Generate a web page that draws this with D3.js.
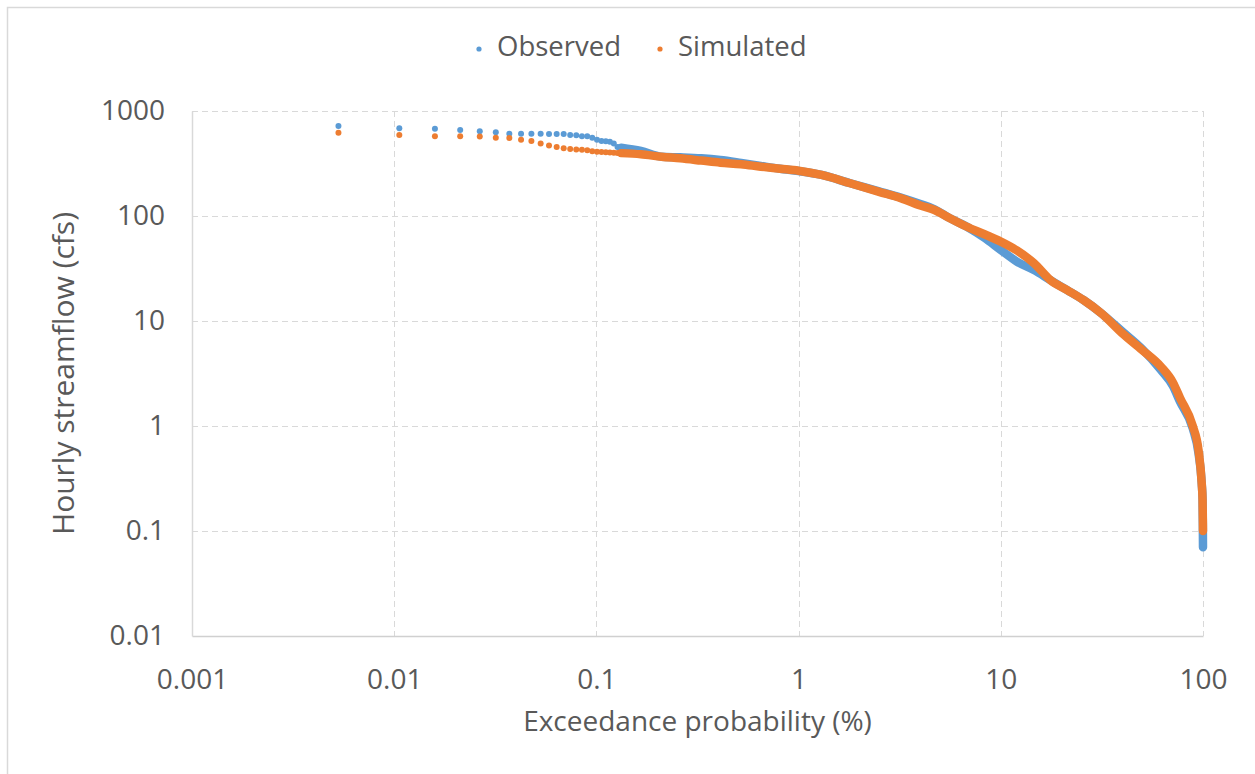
<!DOCTYPE html>
<html>
<head>
<meta charset="utf-8">
<script src="https://cdn.jsdelivr.net/npm/d3@7"></script>
<style>
  body { margin: 0; background: #fff; }
  text { font-family: "Open Sans", "Noto Sans", sans-serif; fill: #595959; }
</style>
</head>
<body>
<div id="chart"></div>
<script>
// exceedance probability (%) of the sparse upper-tail points (rank * 0.0053)
const tailProb = [0.0053, 0.0106, 0.0159, 0.0212, 0.0265, 0.0318, 0.0371, 0.0424, 0.0477, 0.053,
  0.0583, 0.0636, 0.0689, 0.0742, 0.0795, 0.0848, 0.0901, 0.0954, 0.1007, 0.106,
  0.1113, 0.1166, 0.1219, 0.1272, 0.1325];
const observedTail = [720, 684, 678, 659, 643, 627, 608, 608, 607, 606,
  605, 604, 603, 592, 588, 576, 574, 557, 533, 518,
  516, 510, 489, 454, 447];
const simulatedTail = [621, 590, 576, 574, 572, 557, 553, 533, 518, 489,
  468, 454, 441, 435, 430, 428, 422, 414, 410, 406,
  404, 402, 400, 398, 397];

// dense part of the curves (points so close they merge into a band)
const observedProb = [0.1325, 0.166, 0.21, 0.26, 0.33, 0.41, 0.52, 0.65, 0.81, 1.0,
  1.3, 1.8, 2.5, 3.2, 4.0, 4.7, 5.5, 6.8, 8.3, 10,
  12, 14.6, 17.6, 21.3, 25.7, 31.5, 40, 50, 62, 71,
  77, 89, 95, 98.6, 99.5, 99.8, 99.99];
const observedFlow = [447, 416, 367, 362, 354, 341, 320, 300, 282, 268,
  246, 205, 172, 150, 130, 116, 97, 79, 62, 47.4,
  36.8, 30.5, 24.5, 19.7, 15.8, 11.8, 7.9, 5.4, 3.4, 2.4,
  1.7, 0.95, 0.55, 0.28, 0.2, 0.12, 0.07];
const simulatedProb = [0.1325, 0.166, 0.21, 0.26, 0.33, 0.41, 0.52, 0.65, 0.81, 1.0,
  1.3, 1.8, 2.5, 3.2, 4.0, 4.7, 5.5, 6.8, 8.3, 10,
  12, 14.6, 17.6, 21.3, 25.7, 31.5, 40, 50, 62, 71,
  77, 89, 95, 98.6, 99.5, 99.9, 99.99];
const simulatedFlow = [397, 387, 367, 354, 337, 322, 311, 295, 282, 270,
  246, 205, 170, 148, 126, 114, 97, 79, 67, 57,
  47, 35.5, 24.5, 19.7, 15.8, 11.8, 7.6, 5.3, 3.67, 2.6,
  1.85, 1.0, 0.59, 0.28, 0.2, 0.12, 0.1];

const xTicks = [0.001, 0.01, 0.1, 1, 10, 100];
const xTickLabels = ["0.001", "0.01", "0.1", "1", "10", "100"];
const yTicks = [0.01, 0.1, 1, 10, 100, 1000];
const yTickLabels = ["0.01", "0.1", "1", "10", "100", "1000"];

const seriesNames = ["Observed", "Simulated"];
const colors = ["#5b9bd5", "#ed7d31"];

var W = 1255, H = 774;
var margin = {top: 111, right: 52, bottom: 138, left: 192};
var width = W - margin.left - margin.right,
    height = H - margin.top - margin.bottom;

var svg = d3.select("#chart").append("svg")
    .attr("width", W)
    .attr("height", H);

// outer chart border (only top/left fall inside the window)
svg.append("rect")
    .attr("x", 7.5).attr("y", 7.5)
    .attr("width", 1270).attr("height", 790)
    .attr("fill", "none")
    .attr("stroke", "#d9d9d9")
    .attr("stroke-width", 1.5);

var g = svg.append("g")
    .attr("transform", "translate(" + margin.left + "," + margin.top + ")");

var x = d3.scaleLog().domain([0.001, 100]).range([0, width]);
var y = d3.scaleLog().domain([0.01, 1000]).range([height, 0]);

// gridlines
g.append("g")
    .selectAll("line")
    .data(yTicks.slice(1))
    .join("line")
    .attr("x1", 0).attr("x2", width)
    .attr("y1", d => Math.round(y(d)) + 0.5).attr("y2", d => Math.round(y(d)) + 0.5)
    .attr("stroke", "#d9d9d9")
    .attr("stroke-dasharray", "6,4");

g.append("g")
    .selectAll("line")
    .data(xTicks.slice(1))
    .join("line")
    .attr("x1", d => Math.round(x(d)) + 0.5).attr("x2", d => Math.round(x(d)) + 0.5)
    .attr("y1", 0).attr("y2", height)
    .attr("stroke", "#d9d9d9")
    .attr("stroke-dasharray", "6,4");

// axes
var xAxis = g.append("g")
    .attr("transform", "translate(0," + height + ")")
    .call(d3.axisBottom(x).tickValues(xTicks)
      .tickFormat((d, i) => xTickLabels[i]).tickSize(0).tickPadding(33));
xAxis.select(".domain").attr("stroke", "#d0d0d0").attr("stroke-width", 1.5);
xAxis.selectAll("text").attr("font-size", 28).attr("fill", "#595959")
    .style("font-family", '"Open Sans", sans-serif');

var yAxis = g.append("g")
    .call(d3.axisLeft(y).tickValues(yTicks)
      .tickFormat((d, i) => yTickLabels[i]).tickSize(0).tickPadding(27));
yAxis.select(".domain").attr("stroke", "#d9d9d9").attr("stroke-width", 1.5);
yAxis.selectAll("text").attr("font-size", 28).attr("fill", "#595959")
    .style("font-family", '"Open Sans", sans-serif');

// axis titles
svg.append("text")
    .attr("x", margin.left + width / 2)
    .attr("y", 724)
    .attr("text-anchor", "middle")
    .attr("dominant-baseline", "middle")
    .attr("font-size", 28)
    .text("Exceedance probability (%)");

svg.append("text")
    .attr("transform", "translate(66," + (margin.top + height / 2) + ") rotate(-90)")
    .attr("text-anchor", "middle")
    .attr("dominant-baseline", "middle")
    .attr("font-size", 30)
    .text("Hourly streamflow (cfs)");

// data
var tails = [observedTail, simulatedTail];
var curves = [
  observedProb.map((p, i) => [p, observedFlow[i]]),
  simulatedProb.map((p, i) => [p, simulatedFlow[i]])
];

var line = d3.line()
    .x(d => x(d[0]))
    .y(d => y(d[1]))
    .curve(d3.curveMonotoneX);

var plot = g.append("g");
[0, 1].forEach(function(s) {
  plot.append("path")
      .datum(curves[s])
      .attr("d", line)
      .attr("fill", "none")
      .attr("stroke", colors[s])
      .attr("stroke-width", 8.5)
      .attr("stroke-linecap", "round")
      .attr("stroke-linejoin", "round");

  plot.selectAll(".dot" + s)
      .data(tailProb.map((p, i) => [p, tails[s][i]]))
      .join("circle")
      .attr("class", "dot" + s)
      .attr("cx", d => x(d[0]))
      .attr("cy", d => y(d[1]))
      .attr("r", 3)
      .attr("fill", colors[s]);
});

// legend
var legendX = [479, 660];
var legend = svg.append("g");
seriesNames.forEach(function(name, i) {
  legend.append("circle")
      .attr("cx", legendX[i]).attr("cy", 49)
      .attr("r", 2.6)
      .attr("fill", colors[i]);
  legend.append("text")
      .attr("x", legendX[i] + 18).attr("y", 49)
      .attr("dominant-baseline", "middle")
      .attr("font-size", 27.5)
      .text(name);
});
</script>
</body>
</html>
